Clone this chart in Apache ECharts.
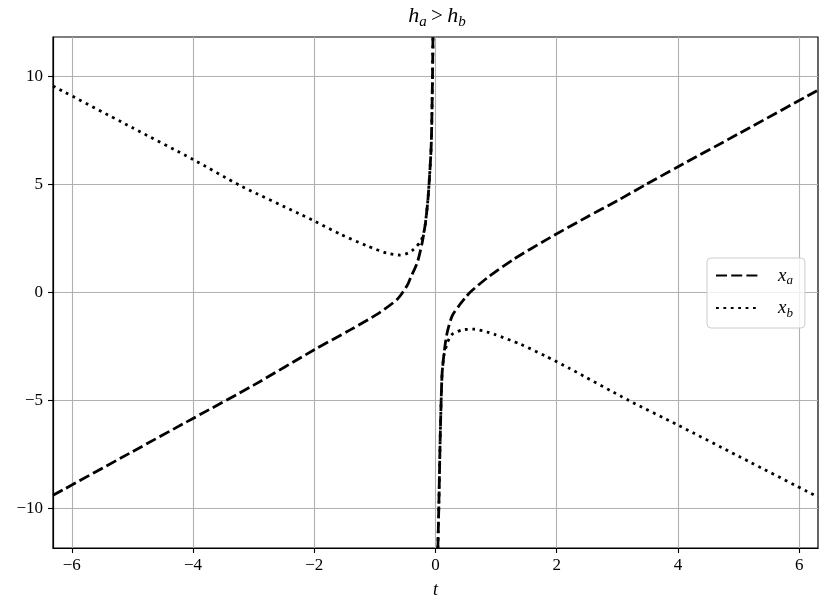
<!DOCTYPE html>
<html>
<head>
<meta charset="utf-8">
<script src="https://cdn.jsdelivr.net/npm/echarts@6/dist/echarts.min.js"></script>
<style>
  html, body { margin: 0; padding: 0; background: #fff; }
  #chart { width: 830px; height: 607px; }
</style>
</head>
<body>
<div id="chart"></div>
<script>
  // x_a (dashed): left and right of the pole at t = 0
  const tALeft = [-6.31, -5, -4, -3, -2, -1.4, -0.96, -0.63, -0.47, -0.41, -0.3, -0.22, -0.165, -0.12, -0.071, -0.05, -0.042]
  const xALeft = [-9.39, -7.37, -5.83, -4.29, -2.65, -1.72, -1.0, -0.31, 0.31, 0.69, 1.39, 2.31, 3.24, 4.47, 6.79, 9.87, 11.83]
  const tARight = [0.039, 0.055, 0.077, 0.094, 0.11, 0.149, 0.193, 0.275, 0.386, 0.496, 0.567, 0.854, 1.295, 1.846, 2.5, 3, 3.47, 4, 5, 6.31]
  const xARight = [-11.83, -9.88, -6.79, -4.94, -3.7, -2.63, -1.85, -1.08, -0.62, -0.23, 0.0, 0.68, 1.55, 2.47, 3.5, 4.25, 5.0, 5.82, 7.35, 9.37]
  // x_b (dotted)
  const tBLeft = [-6.31, -5, -4, -3.22, -2.23, -2, -1.57, -1.13, -0.8, -0.58, -0.45, -0.36, -0.24, -0.18, -0.165, -0.12, -0.071, -0.05, -0.042]
  const xBLeft = [9.56, 7.63, 6.16, 4.95, 3.62, 3.31, 2.7, 2.16, 1.82, 1.73, 1.83, 2.0, 2.39, 2.93, 3.24, 4.47, 6.79, 9.87, 11.83]
  const tBRight = [0.039, 0.055, 0.077, 0.094, 0.11, 0.14, 0.165, 0.2, 0.25, 0.292, 0.441, 0.634, 0.854, 0.964, 1.4, 1.82, 2.2, 3.19, 4, 5, 6.31]
  const xBRight = [-11.83, -9.88, -6.79, -4.94, -3.7, -2.9, -2.62, -2.3, -2.01, -1.9, -1.73, -1.7, -1.83, -1.93, -2.39, -2.95, -3.5, -5.0, -6.14, -7.58, -9.47]

  const xTicks = [-6, -4, -2, 0, 2, 4, 6]
  const yTicks = [-10, -5, 0, 5, 10]

  const serif = 'Liberation Serif'

  function pairs (ts, vs) {
    return ts.map((t, i) => [t, vs[i]])
  }
  // a missing point breaks the curve across the pole
  const dataA = pairs(tALeft, xALeft).concat([[0, null]], pairs(tARight, xARight))
  const dataB = pairs(tBLeft, xBLeft).concat([[0, null]], pairs(tBRight, xBRight))

  const minus = v => String(v).replace('-', '\u2212')

  const legendRich = {
    i: { fontFamily: serif, fontStyle: 'italic', fontSize: 19, lineHeight: 24, color: '#000' },
    s: { fontFamily: serif, fontStyle: 'italic', fontSize: 13, lineHeight: 13, verticalAlign: 'bottom', color: '#000' }
  }
  const titleRich = {
    i: { fontFamily: serif, fontStyle: 'italic', fontSize: 22, lineHeight: 28, color: '#000' },
    s: { fontFamily: serif, fontStyle: 'italic', fontSize: 15, lineHeight: 15, verticalAlign: 'bottom', color: '#000' },
    o: { fontFamily: serif, fontSize: 21, lineHeight: 28, color: '#000' }
  }

  let myChart = echarts.init(document.getElementById('chart'))
  myChart.setOption({
    animation: false,
    backgroundColor: '#fff',
    graphic: [{
      type: 'text',
      x: 437,
      y: 2,
      style: {
        text: '{i|h}{s|a}{o|\u2009>\u2009}{i|h}{s|b}',
        rich: titleRich,
        align: 'center',
        verticalAlign: 'top'
      }
    }],
    grid: {
      left: 53,
      right: 12,
      top: 37,
      bottom: 59,
      show: true,
      borderColor: '#000',
      borderWidth: 1.2
    },
    legend: {
      left: 707,
      top: 258,
      orient: 'vertical',
      itemWidth: 43,
      itemHeight: 14,
      itemGap: 11,
      padding: [8, 12, 8, 8],
      backgroundColor: 'rgba(255,255,255,0.8)',
      borderColor: '#cccccc',
      borderWidth: 1,
      borderRadius: 4,
      itemStyle: { opacity: 0 },
      formatter: function (name) {
        return name === 'x_a' ? '{i|x}{s|a}' : '{i|x}{s|b}'
      },
      textStyle: { padding: [0, 0, 0, 14], rich: legendRich }
    },
    xAxis: {
      type: 'value',
      min: -6.31,
      max: 6.31,
      splitNumber: 6,
      name: 't',
      nameLocation: 'middle',
      nameGap: 33,
      nameTextStyle: { fontFamily: serif, fontStyle: 'italic', fontSize: 18, color: '#000' },
      axisLine: { onZero: false, lineStyle: { color: '#000', width: 1.2 } },
      axisTick: { customValues: xTicks, length: 5, lineStyle: { color: '#000', width: 1.1 } },
      axisLabel: { customValues: xTicks, formatter: minus, fontFamily: serif, fontSize: 17, color: '#000', margin: 9 },
      splitLine: { show: true, lineStyle: { color: '#b0b0b0', width: 1.1 } }
    },
    yAxis: {
      type: 'value',
      min: -11.83,
      max: 11.83,
      splitNumber: 5,
      axisLine: { show: true, onZero: false, lineStyle: { color: '#000', width: 1.2 } },
      axisTick: { show: true, customValues: yTicks, length: 5, lineStyle: { color: '#000', width: 1.1 } },
      axisLabel: { customValues: yTicks, formatter: minus, fontFamily: serif, fontSize: 17, color: '#000', margin: 10 },
      splitLine: { show: true, lineStyle: { color: '#b0b0b0', width: 1.1 } }
    },
    series: [
      {
        name: 'x_a',
        type: 'line',
        data: dataA,
        showSymbol: false,
        symbol: 'none',
        smooth: 0.25,
        color: '#000',
        lineStyle: { color: '#000', width: 2.8, type: [11, 4.2], cap: 'butt' }
      },
      {
        name: 'x_b',
        type: 'line',
        data: dataB,
        showSymbol: false,
        symbol: 'none',
        smooth: 0.25,
        color: '#000',
        lineStyle: { color: '#000', width: 2.8, type: [2.8, 4.6], cap: 'butt' }
      }
    ]
  })
  window.addEventListener('resize', function () {
    myChart.resize()
  })
</script>
</body>
</html>
